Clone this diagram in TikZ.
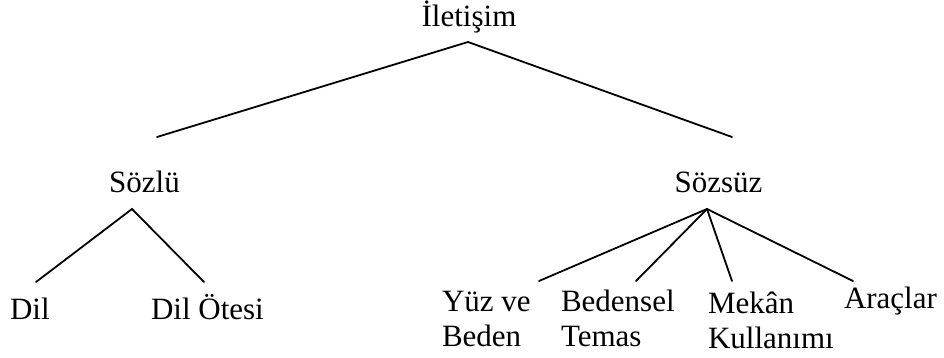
\documentclass[tikz,border=0pt]{standalone}
\usepackage{fontspec}
\setmainfont{Liberation Serif}
\begin{document}
\begin{tikzpicture}[x=1pt,y=-1pt,
  lbl/.style={inner sep=0pt,outer sep=0pt,font=\fontsize{31}{35}\selectfont,align=left},
  conn/.style={line width=1.8pt,line cap=round}]
\useasboundingbox (0,0) rectangle (944,358);
% nodes
\node[lbl,anchor=base] (ilet) at (469,27) {İletişim};
\node[lbl,anchor=base] (sozlu) at (144.5,193) {Sözlü};
\node[lbl,anchor=base] (sozsuz) at (718.5,193) {Sözsüz};
\node[lbl,anchor=base west] (dil) at (10,319) {Dil};
\node[lbl,anchor=base west] (dilotesi) at (151,319) {Dil Ötesi};
\node[lbl,anchor=base west] (yuz) at (442,346) {Yüz ve\\Beden};
\node[lbl,anchor=base west] (bedensel) at (561,346) {Bedensel\\Temas};
\node[lbl,anchor=base west] (mekan) at (708,348) {Mekân\\Kullanımı};
\node[lbl,anchor=base west] (araclar) at (844,308) {Araçlar};
% connector end points
\coordinate (iletJ) at (468,42);
\coordinate (sozluT) at (157,137);
\coordinate (sozsuzT) at (732,137);
\coordinate (sozluJ) at (132,209);
\coordinate (dilT) at (36,282);
\coordinate (dilotesiT) at (204,282);
\coordinate (sozsuzJ) at (707,209);
\coordinate (yuzT) at (539,281);
\coordinate (bedenselT) at (636,281);
\coordinate (mekanT) at (732,281);
\coordinate (araclarT) at (853,281);
% connectors
\draw[conn] (sozluT) -- (iletJ) -- (sozsuzT);
\draw[conn] (dilT) -- (sozluJ) -- (dilotesiT);
\draw[conn] (sozsuzJ) -- (yuzT);
\draw[conn] (sozsuzJ) -- (bedenselT);
\draw[conn] (sozsuzJ) -- (mekanT);
\draw[conn] (sozsuzJ) -- (araclarT);
\end{tikzpicture}
\end{document}
